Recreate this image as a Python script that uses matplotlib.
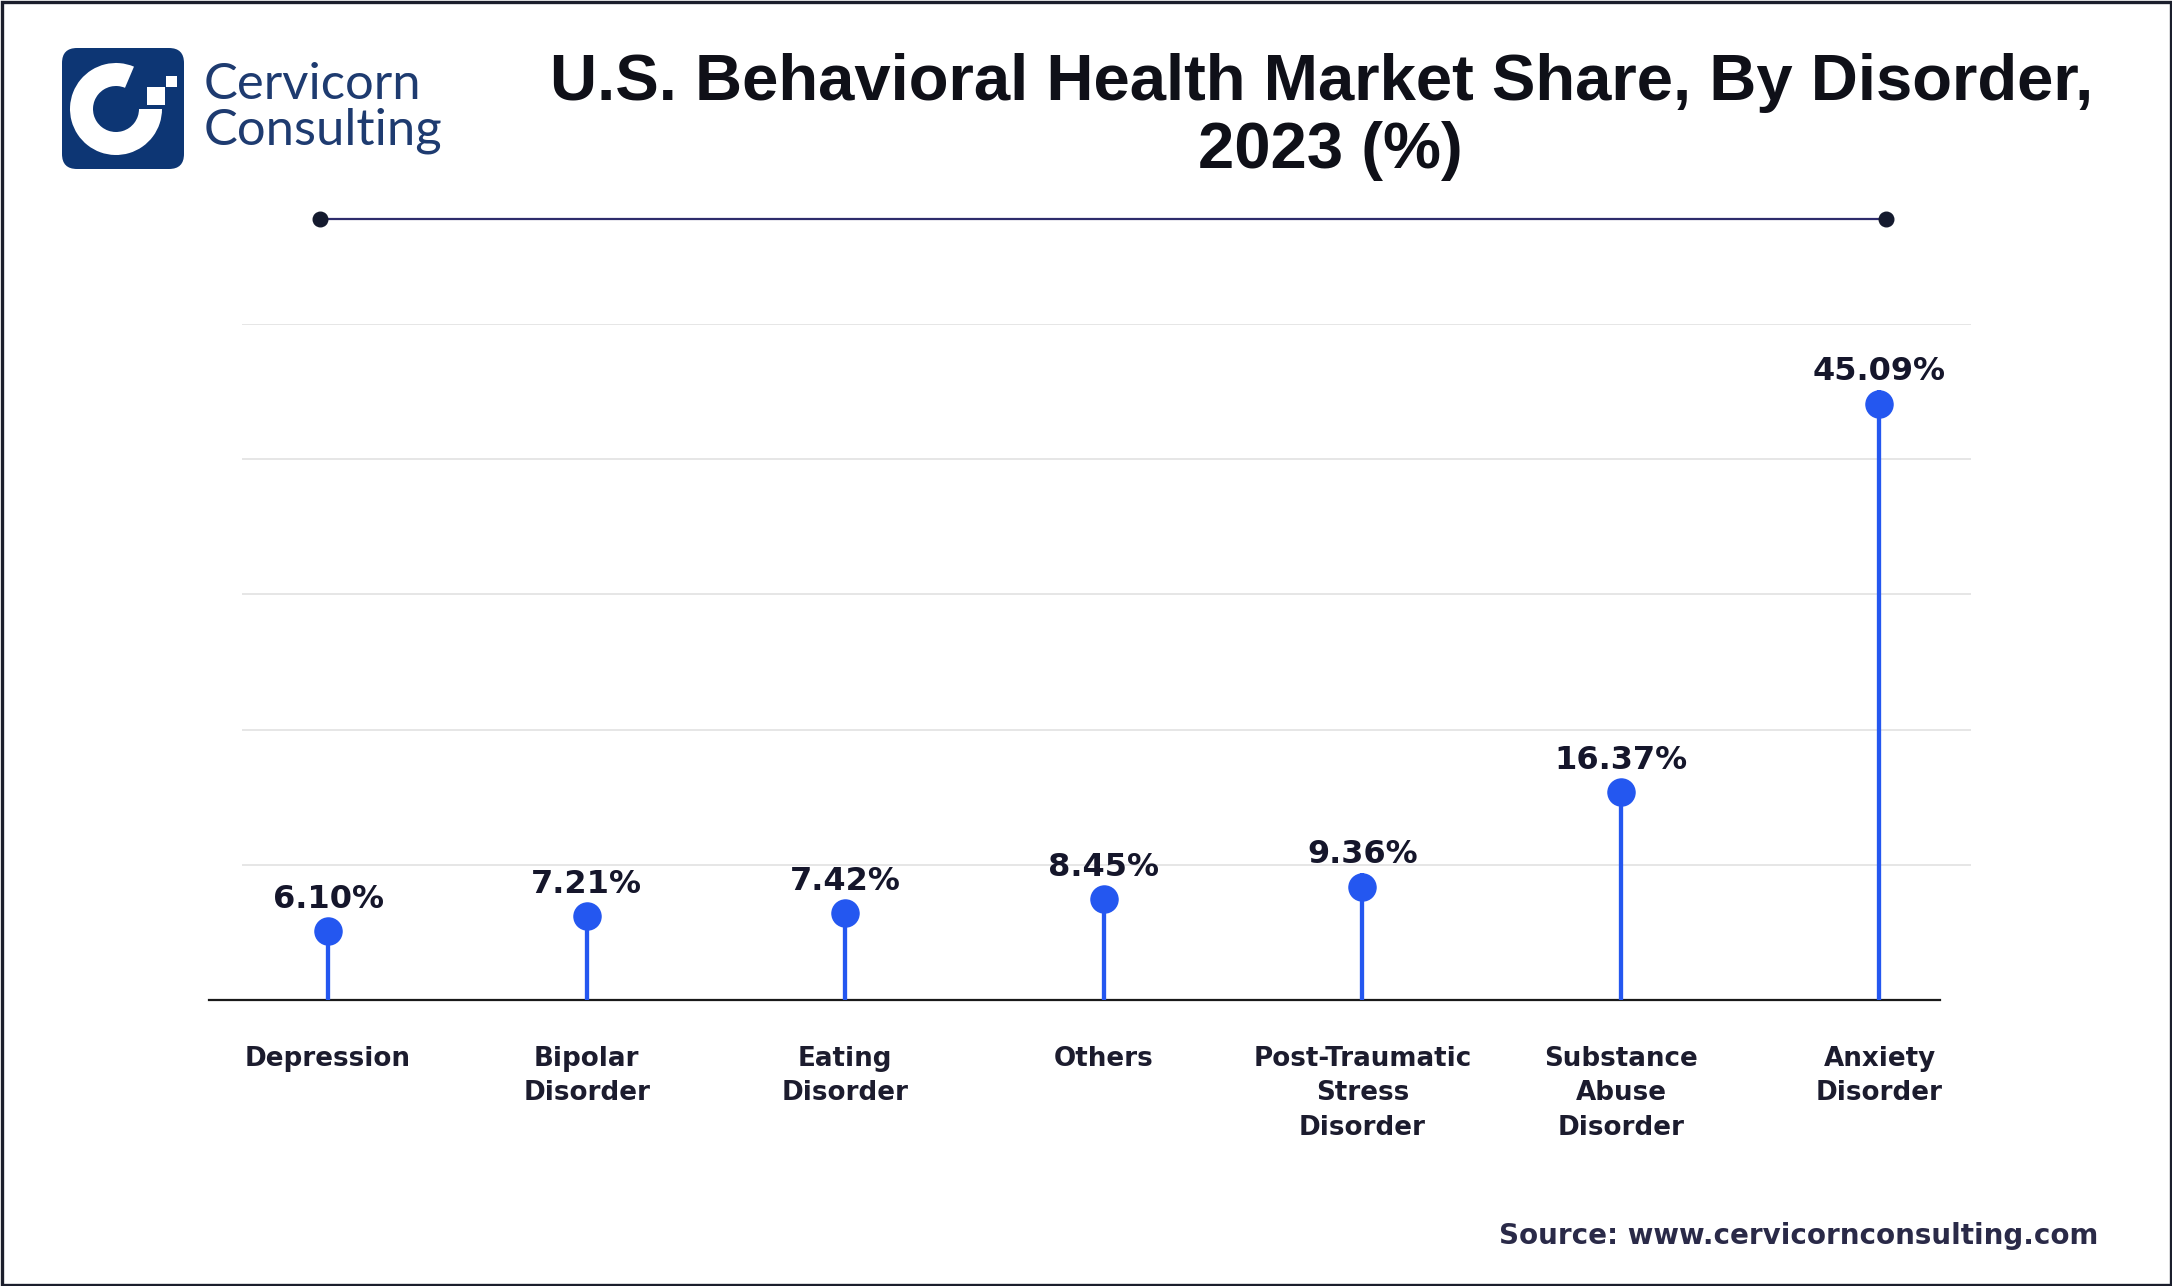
import matplotlib
matplotlib.use("Agg")
import matplotlib.pyplot as plt
from matplotlib.patches import Rectangle, FancyBboxPatch, Wedge
from matplotlib.transforms import ScaledTranslation

# data
categories = ["Depression", "Bipolar\nDisorder", "Eating\nDisorder", "Others",
              "Post-Traumatic\nStress\nDisorder", "Substance\nAbuse\nDisorder",
              "Anxiety\nDisorder"]
shares = [6.10, 7.21, 7.42, 8.45, 9.36, 16.37, 45.09]
grid_ticks = [10, 20, 30, 40, 50]

title_1 = "U.S. Behavioral Health Market Share, By Disorder,"
title_2 = "2023 (%)"
source = "Source: www.cervicornconsulting.com"

blue = "#2457f0"
navy = "#0d3674"
ink = "#15162b"

W, H = 2172, 1286
fig = plt.figure(figsize=(W / 100, H / 100), dpi=100)
fig.patch.set_facecolor("white")

# pixel-coordinate layer for the decorations (y grows downwards)
deco = fig.add_axes([0, 0, 1, 1])
deco.set_xlim(0, W)
deco.set_ylim(H, 0)
deco.axis("off")

deco.add_patch(Rectangle((1.5, 1.5), W - 3, H - 3, fill=False, ec="#1b1e2c", lw=2.4))

# logo
deco.add_patch(FancyBboxPatch((62, 48), 122, 121, boxstyle="round,pad=0,rounding_size=15",
                              fc=navy, ec="none"))
deco.add_patch(Wedge((116, 109), 46, 0, 293, width=23, fc="white", ec="none"))
deco.add_patch(Rectangle((147, 87), 18, 18, fc="white", ec="none"))
deco.add_patch(Rectangle((166, 76), 11, 11, fc="white", ec="none"))
deco.text(204, 99, "Cervicorn", fontsize=36.5, family="Lato", color="#1e3b70", va="baseline")
deco.text(204, 144, "Consulting", fontsize=36.5, family="Lato", color="#1e3b70", va="baseline")

# title
deco.text(1322, 100, title_1, fontsize=47, family="Liberation Sans", fontweight="bold",
          color="#0f1018", ha="center", va="baseline")
deco.text(1330, 168, title_2, fontsize=47, family="Liberation Sans", fontweight="bold",
          color="#0f1018", ha="center", va="baseline")

# rule under the title
deco.plot([320, 1886], [219, 219], color="#2e2c6c", lw=1.6)
deco.plot([320, 1886], [219, 219], "o", ms=10.5, color="#141a2e", lw=0)

deco.text(2098, 1244, source, fontsize=20, fontweight="bold", color="#2a2a48",
          ha="right", va="baseline")

# lollipop chart
ax = fig.add_axes([242 / W, (H - 1000) / H, (1971 - 242) / W, (1000 - 324) / H])
ax.set_facecolor("none")
x = list(range(len(categories)))

ax.vlines(x, 0, shares, color=blue, lw=3.1, zorder=3)
# the value sits at the top edge of the dot
shift = ScaledTranslation(0, -13.5 / 100, fig.dpi_scale_trans)
ax.plot(x, shares, "o", ms=19.5, color=blue, lw=0, transform=ax.transData + shift, zorder=4)

for xi, v in zip(x, shares):
    ax.annotate(f"{v:.2f}%", (xi, v), xytext=(0, 7.2), textcoords="offset points",
                ha="center", va="baseline", fontsize=23, fontweight="bold", color=ink)

ax.axhline(0, xmin=-0.019, xmax=0.982, color="#1a1a1a", lw=1.6, clip_on=False, zorder=2)

ax.set_xlim(-0.333, 6.354)
ax.set_ylim(0, 50)
ax.set_yticks(grid_ticks)
ax.grid(axis="y", color="#e4e4e4", lw=1.3)
ax.set_axisbelow(True)
ax.tick_params(axis="y", length=0, labelleft=False)
ax.set_xticks(x)
ax.set_xticklabels(categories, fontsize=18.8, fontweight="bold", color="#1c1c2e",
                   linespacing=1.42)
ax.tick_params(axis="x", length=0, pad=33)
for s in ax.spines.values():
    s.set_visible(False)

fig.savefig("out.png", dpi=100, facecolor="white")
